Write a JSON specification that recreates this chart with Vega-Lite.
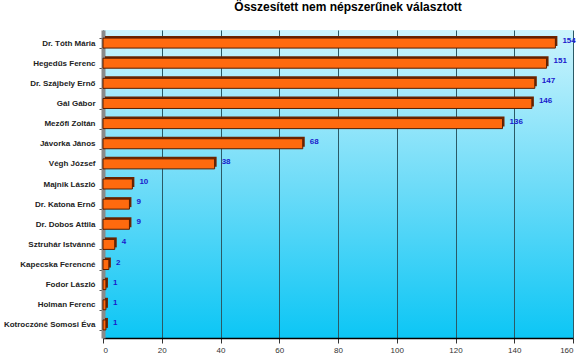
{
  "$schema": "https://vega.github.io/schema/vega-lite/v6.json",
  "width": 470,
  "height": 308,
  "autosize": "none",
  "padding": {"left": 103, "top": 30, "right": 12, "bottom": 24},
  "background": "white",
  "title": {
    "text": "Összesített nem népszerűnek választott",
    "font": "Liberation Sans",
    "fontSize": 12,
    "fontWeight": "bold",
    "color": "#000000",
    "anchor": "middle",
    "offset": 12,
    "dx": 10
  },
  "data": {
    "values": [
      {"name": "Dr. Tóth Mária", "value": 154},
      {"name": "Hegedűs Ferenc", "value": 151},
      {"name": "Dr. Szájbely Ernő", "value": 147},
      {"name": "Gál Gábor", "value": 146},
      {"name": "Mezőfi Zoltán", "value": 136},
      {"name": "Jávorka János", "value": 68},
      {"name": "Végh József", "value": 38},
      {"name": "Majnik László", "value": 10},
      {"name": "Dr. Katona Ernő", "value": 9},
      {"name": "Dr. Dobos Attila", "value": 9},
      {"name": "Sztruhár Istvánné", "value": 4},
      {"name": "Kapecska Ferencné", "value": 2},
      {"name": "Fodor László", "value": 1},
      {"name": "Holman Ferenc", "value": 1},
      {"name": "Kotroczóné Somosi Éva", "value": 1}
    ]
  },
  "encoding": {
    "y": {
      "field": "name",
      "type": "nominal",
      "sort": null,
      "title": null,
      "scale": {"paddingInner": 0.5, "paddingOuter": 0.4},
      "axis": {
        "labelFont": "Liberation Sans",
        "labelFontSize": 8,
        "labelFontWeight": "bold",
        "labelColor": "#222222",
        "labelPadding": 4,
        "domainColor": "#8a8a8a",
        "domainWidth": 4,
        "tickColor": "#555555",
        "tickSize": 4,
        "tickBand": "extent",
        "labelLimit": 200
      }
    },
    "x": {
      "field": "value",
      "type": "quantitative",
      "title": null,
      "scale": {"domain": [0, 160], "nice": false},
      "axis": {
        "values": [0, 20, 40, 60, 80, 100, 120, 140, 160],
        "labelFont": "Liberation Sans",
        "labelFontSize": 8,
        "labelColor": "#333333",
        "domainColor": "#000000",
        "domainWidth": 1.5,
        "tickColor": "#333333",
        "tickSize": 5,
        "labelPadding": 3,
        "grid": true,
        "gridColor": "#2b5a66",
        "gridWidth": 1
      }
    }
  },
  "layer": [
    {
      "mark": {"type": "bar", "color": "#6b2400", "xOffset": 2, "yOffset": -2, "height": 10}
    },
    {
      "mark": {"type": "bar", "color": "#ff6a0e", "stroke": "#5a1e00", "strokeWidth": 1, "height": 10}
    },
    {
      "mark": {
        "type": "text",
        "align": "left",
        "baseline": "middle",
        "dx": 7,
        "dy": -2,
        "font": "Liberation Sans",
        "fontSize": 8,
        "fontWeight": "bold",
        "color": "#1a1acc"
      },
      "encoding": {"text": {"field": "value", "type": "quantitative"}}
    }
  ],
  "config": {
    "view": {
      "stroke": null,
      "fill": {
        "gradient": "linear",
        "x1": 0, "y1": 0, "x2": 0, "y2": 1,
        "stops": [
          {"offset": 0, "color": "#ccf4fd"},
          {"offset": 0.5, "color": "#6fdcf8"},
          {"offset": 1, "color": "#0cc6f5"}
        ]
      }
    }
  }
}
